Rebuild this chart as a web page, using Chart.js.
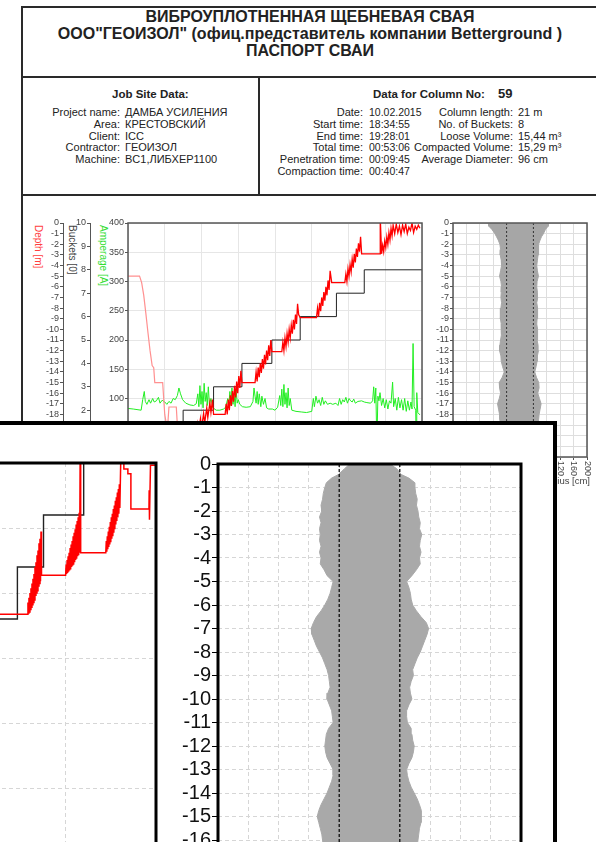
<!DOCTYPE html>
<html lang="ru">
<head>
<meta charset="utf-8">
<title>Паспорт сваи</title>
<script src="https://cdn.jsdelivr.net/npm/chart.js@4.4.1/dist/chart.umd.min.js"></script>
<style>
  html, body { margin: 0; padding: 0; background: #fff; }
  body { position: relative; width: 596px; height: 842px; overflow: hidden;
         font-family: "Liberation Sans", Arial, sans-serif; color: #222; }
  .hl { position: absolute; height: 2px; background: #2a2a2a; }
  .vl { position: absolute; width: 2px; background: #2a2a2a; }
  .txt { position: absolute; white-space: nowrap; font-size: 11px; line-height: 11.8px; }
  .r { text-align: right; }
  .b { font-weight: bold; }
  .vt { position: absolute; writing-mode: vertical-rl; font-size: 10px; line-height: 11px; white-space: nowrap; }
  canvas { position: absolute; }
  #inset { position: absolute; left: -10px; top: 421px; width: 559px; height: 500px;
           border: 4px solid #000; background: #fff; overflow: hidden; }
</style>
</head>
<body>
<div class="hl" style="left:22px; top:6px; width:576px"></div>
<div class="vl" style="left:21px; top:6px; height:836px"></div>
<div class="txt b" style="left:22px; width:576px; top:8px; text-align:center; font-size:16px; line-height:17px">ВИБРОУПЛОТНЕННАЯ ЩЕБНЕВАЯ СВАЯ<br>ООО"ГЕОИЗОЛ" (офиц.представитель компании Betterground )<br>ПАСПОРТ СВАИ</div>
<div class="hl" style="left:22px; top:76px; width:576px"></div>
<div class="vl" style="left:258px; top:76px; height:120px"></div>
<div class="hl" style="left:22px; top:194px; width:576px"></div>

<div class="txt b" style="left:112px; top:89px; font-size:11.5px">Job Site Data:</div>
<div class="txt r" style="left:0; width:120px; top:107px">Project name:<br>Area:<br>Client:<br>Contractor:<br>Machine:</div>
<div class="txt" style="left:125px; top:107px">ДАМБА УСИЛЕНИЯ<br>КРЕСТОВСКИЙ<br>ICC<br>ГЕОИЗОЛ<br>BC1,ЛИБХЕР1100</div>

<div class="txt b" style="left:373px; top:89px; font-size:11.5px">Data for Column No:</div>
<div class="txt b" style="left:498px; top:88px; font-size:13px">59</div>
<div class="txt r" style="left:243px; width:120px; top:107px">Date:<br>Start time:<br>End time:<br>Total time:<br>Penetration time:<br>Compaction time:</div>
<div class="txt" style="left:369px; top:107px; font-size:10.5px">10.02.2015<br>18:34:55<br>19:28:01<br>00:53:06<br>00:09:45<br>00:40:47</div>
<div class="txt r" style="left:393px; width:120px; top:107px">Column length:<br>No. of Buckets:<br>Loose Volume:<br>Compacted Volume:<br>Average Diameter:</div>
<div class="txt" style="left:518px; top:107px">21 m<br>8<br>15,44 m³<br>15,29 m³<br>96 cm</div>

<div class="vt" style="left:33px; top:225px; color:#ff4040">Depth [m]</div>
<div class="vt" style="left:67px; top:225px; color:#444">Buckets [0]</div>
<div class="vt" style="left:98px; top:225px; color:#33dd33">Amperage [A]</div>

<canvas id="cMain" width="410" height="270" style="left:22px; top:196px"></canvas>
<canvas id="cRad" width="176" height="300" style="left:420px; top:196px"></canvas>

<div id="inset">
  <canvas id="cZoom" width="245" height="560" style="left:-74px; top:25px"></canvas>
  <canvas id="cZoomRad" width="380" height="560" style="left:156px; top:20px"></canvas>
</div>

<script>
// --- main chart: time [min] ---
const ampT = [0, 1.0, 2.5, 2.8, 3.1, 3.3, 3.6, 4.0, 4.3, 4.7,
  5.0, 5.4, 5.8, 6.1, 6.5, 7.0, 7.4, 7.8, 8.2, 8.6,
  9.0, 9.4, 9.7, 10.0, 10.4, 11.0, 11.8, 12.5, 13.0, 13.3,
  13.5, 13.7, 13.9, 14.1, 14.3, 14.5, 14.7, 14.9, 15.1, 15.3,
  15.5, 15.8, 16.2, 16.8, 17.5, 18.2, 18.6, 19.0, 19.2, 19.4,
  19.6, 19.8, 20.0, 20.2, 20.4, 20.6, 20.8, 21.0, 21.3, 21.8,
  22.5, 23.3, 23.8, 24.0, 24.2, 24.4, 24.6, 24.8, 25.0, 25.3,
  25.5, 25.8, 26.1, 26.4, 26.8, 27.5, 28.0, 28.5, 28.9, 29.1,
  29.3, 29.5, 29.7, 29.9, 30.1, 30.3, 30.5, 30.7, 30.9, 31.2,
  32.0, 33.0, 34.0, 35.0, 35.3, 35.5, 35.8, 36.1, 36.4, 36.7,
  37.0, 37.3, 37.6, 38.0, 38.5, 39.0, 39.6, 40.0, 40.3, 40.6,
  40.9, 41.2, 41.5, 41.8, 42.1, 42.4, 42.7, 43.0, 43.3, 43.8,
  44.5, 45.0, 45.5, 46.2, 46.6, 46.8, 47.0, 47.2, 47.4, 47.6,
  47.8, 48.0, 48.3, 48.6, 48.9, 49.2, 49.5, 49.8, 50.1, 50.4,
  50.6, 50.9, 51.2, 51.5, 51.8, 52.1, 52.4, 52.7, 53.0, 53.3,
  53.6, 53.9, 54.1, 54.3, 54.5, 54.8, 54.9, 55.0, 55.2, 55.6];
const ampA = [83, 82, 80, 98, 112, 95, 90, 98, 92, 100,
  94, 96, 102, 92, 97, 94, 90, 95, 92, 100,
  98, 105, 118, 108, 98, 92, 89, 88, 91, 108,
  86, 122, 90, 112, 84, 126, 95, 110, 88, 120,
  90, 100, 84, 80, 80, 82, 85, 100, 86, 112,
  88, 118, 90, 108, 86, 115, 92, 98, 90, 86,
  85, 86, 95, 118, 104, 92, 112, 90, 108, 86,
  104, 90, 100, 84, 82, 82, 80, 85, 105, 88,
  116, 86, 124, 90, 110, 84, 118, 88, 100, 80,
  78, 77, 76, 78, 100, 86, 104, 92, 98, 88,
  102, 90, 96, 90, 92, 90, 92, 88, 100, 90,
  98, 94, 102, 92, 100, 96, 94, 99, 92, 95,
  96, 94, 93, 92, 96, 120, 92, 118, 20, 104,
  96, 110, 88, 100, 84, 98, 82, 96, 92, 128,
  86, 100, 80, 102, 84, 98, 80, 100, 78, 96,
  80, 94, 82, 194, 86, 80, 20, 110, 76, 72];

const bktT = [0, 8.5, 10.5, 16.3, 21.7, 27.4, 32.8, 39.7, 45.0, 56];
const bktN = [0, 1, 2, 3, 4, 5, 6, 7, 8, 8];

const penT = [0, 2.2, 2.6, 3.0, 3.4, 3.8, 4.2, 4.6, 4.9, 5.1, 5.6, 6.6, 6.8, 7.0, 7.5, 7.8, 9.2, 9.4, 9.8, 10.5];
const penD = [-5.0, -5.0, -5.6, -6.8, -8.5, -10.3, -12.0, -13.4, -13.6, -15.0, -15.0, -15.0, -16.5, -18.0, -19.5, -17.3, -17.3, -19.0, -21.0, -21.0];

const compT = [10.5, 11.0, 11.4, 11.6, 12.0, 12.2, 12.6, 12.8, 13.2, 13.4, 13.8, 14.0, 14.4, 14.6, 15.0, 15.2, 15.6, 15.8, 16.1, 16.3,
  18.5, 18.7, 18.9, 19.1, 19.3, 19.5, 19.7, 19.9, 20.1, 20.3, 20.5, 20.7, 20.9, 21.1, 21.3, 21.5, 21.7,
  24.2, 24.4, 24.6, 24.8, 25.0, 25.2, 25.4, 25.6, 25.8, 26.0, 26.2, 26.4, 26.6, 26.8, 27.0, 27.2, 27.4,
  29.3, 29.5, 29.7, 29.9, 30.1, 30.3, 30.5, 30.7, 30.9, 31.1, 31.3, 31.5, 31.7, 31.9, 32.1, 32.3, 32.5, 32.8,
  35.9, 36.1, 36.3, 36.5, 36.7, 36.9, 37.1, 37.3, 37.5, 37.7, 37.9, 38.1, 38.3, 38.5, 38.8,
  41.3, 41.5, 41.7, 41.9, 42.1, 42.3, 42.5, 42.7, 42.9, 43.1, 43.3, 43.5, 43.7, 43.9, 44.1, 44.3, 44.5,
  48.0, 48.05, 48.3, 48.5, 48.7, 48.9, 49.1, 49.3, 49.5, 49.7, 49.9, 50.1, 50.3, 50.5,
  50.8, 51.1, 51.4, 51.7, 52.0, 52.3, 52.6, 52.9, 53.2, 53.5, 53.8, 54.1, 54.4, 54.7, 55.0, 55.3, 55.6];
const compD = [-21.0, -21.0, -20.2, -21.0, -19.8, -20.6, -19.3, -20.2, -18.9, -19.8, -18.4, -19.3, -17.9, -18.8, -17.4, -18.3, -16.9, -17.8, -16.6, -18.0,
  -18.0, -17.0, -18.0, -16.6, -17.6, -16.2, -17.2, -15.8, -16.8, -15.3, -16.4, -14.9, -16.0, -14.4, -15.5, -13.9, -15.0,
  -15.0, -14.0, -14.9, -13.6, -14.5, -13.2, -14.1, -12.8, -13.7, -12.4, -13.3, -12.0, -12.9, -11.5, -12.5, -11.0, -12.1,
  -12.1, -11.2, -12.0, -10.8, -11.6, -10.4, -11.2, -10.0, -10.8, -9.6, -10.4, -9.1, -10.0, -8.6, -9.5, -7.6, -8.6, -8.9,
  -8.9, -8.0, -8.8, -7.5, -8.3, -7.0, -7.8, -6.5, -7.3, -6.0, -6.8, -5.4, -6.3, -4.5, -5.6,
  -5.6, -4.8, -5.5, -4.3, -5.0, -3.9, -4.6, -3.4, -4.2, -2.9, -3.7, -2.4, -3.2, -1.9, -2.7, -1.3, -2.9,
  -2.9, 0.5, -2.9, -2.1, -2.7, -1.7, -2.3, -1.3, -2.0, -0.9, -1.6, -0.5, -1.2, -0.2,
  -1.0, -0.1, -0.9, -0.3, -1.1, -0.2, -0.8, -0.1, -1.0, -0.4, -0.7, 0.0, -0.9, -0.3, -0.6, -0.2, -0.5];

// --- radius profile, top chart: depth [m], left/right edge [cm] ---
const topDepth = [0, -0.3, -0.6, -1, -1.3, -1.6, -2, -2.5, -3, -3.5, -4, -4.5, -5, -5.5, -6, -6.5, -7, -7.5, -8, -8.5, -9, -9.5,
  -10, -10.5, -11, -11.5, -12, -12.5, -13, -13.5, -14, -14.5, -15, -15.5, -16, -16.5, -17, -17.5, -18, -18.5, -19, -19.5, -20, -20.5, -21];
const topLeft = [-95, -93, -84, -75, -70, -65, -60, -58, -59, -56, -55, -58, -61, -57, -55, -56, -57, -55, -57, -58, -59, -56,
  -55, -56, -58, -60, -61, -57, -56, -52, -47, -53, -62, -61, -58, -62, -67, -64, -61, -60, -59, -58, -57, -56, -54];
const topRight = [85, 84, 76, 70, 64, 60, 56, 55, 54, 52, 50, 52, 55, 51, 50, 52, 53, 50, 52, 53, 51, 50,
  52, 53, 51, 54, 55, 52, 51, 48, 44, 49, 56, 57, 53, 58, 63, 60, 57, 56, 55, 54, 53, 52, 50];

// --- zoomed view ---
const zBktT = [28, 37.2, 39.8, 43.8, 51];
const zBktN = [7, 8, 9, 11, 11];
const zDepT = [28,
  38.20, 38.25, 38.30, 38.35, 38.40, 38.45, 38.50, 38.55, 38.60, 38.65, 38.70, 38.75, 38.80, 38.85, 38.90,
  38.95, 39.00, 39.05, 39.10, 39.15, 39.20, 39.25, 39.30, 39.35, 39.40, 39.45, 39.50, 39.55, 39.60,
  42.00, 42.05, 42.10, 42.15, 42.20, 42.25, 42.30, 42.35, 42.40, 42.45, 42.50, 42.55, 42.60, 42.65, 42.70,
  42.75, 42.80, 42.85, 42.90, 42.95, 43.00, 43.05, 43.10, 43.15, 43.20, 43.25, 43.30, 43.35, 43.40, 43.45, 43.50,
  46.00, 46.05, 46.10, 46.15, 46.20, 46.25, 46.30, 46.35, 46.40, 46.45, 46.50, 46.55, 46.60, 46.65, 46.70,
  46.75, 46.80, 46.85, 46.90, 46.95, 47.00, 47.05, 47.10, 47.15, 47.20, 47.25, 47.30, 47.35, 47.40,
  47.5, 47.8, 47.8, 48.2, 48.2, 48.5, 48.5,
  50.3, 50.32, 50.35, 50.45, 51];
const zDepD = [-6.4,
  -6.4, -5.9, -6.35, -5.7, -6.3, -5.5, -6.2, -5.3, -6.1, -5.1, -6.0, -4.9, -5.9, -4.7, -5.8,
  -4.4, -5.6, -4.2, -5.5, -3.9, -5.4, -3.7, -5.2, -3.4, -5.1, -3.2, -5.0, -2.9, -4.75,
  -4.75, -4.3, -4.7, -4.1, -4.65, -3.95, -4.6, -3.8, -4.55, -3.6, -4.5, -3.45, -4.4, -3.3, -4.35,
  -3.1, -4.3, -2.95, -4.2, -2.8, -4.1, -2.6, -4.05, -2.45, -3.95, -2.3, -3.9, -2.1, -3.8, 0.5, -3.8,
  -3.8, -3.3, -3.75, -3.1, -3.65, -2.9, -3.55, -2.7, -3.45, -2.5, -3.35, -2.3, -3.2, -2.15, -3.1,
  -1.95, -2.95, -1.8, -2.8, -1.6, -2.6, -1.45, -2.45, -1.25, -2.3, -1.1, -2.15, -0.9, -1.9,
  0.3, 0.3, -0.25, -0.25, -0.45, -0.45, -1.95,
  -1.95, -1.15, -2.4, -0.1, -0.1];

const zDepth = [0, -0.2, -0.45, -0.6, -0.8, -1, -1.25, -1.5, -1.75, -2, -2.25, -2.5, -2.75, -3, -3.25, -3.5, -3.75, -4,
  -4.25, -4.5, -4.75, -5, -5.25, -5.5, -5.75, -6, -6.25, -6.5, -6.75, -7, -7.25, -7.5, -7.75, -8, -8.25, -8.5, -8.75, -9,
  -9.25, -9.5, -9.75, -10, -10.25, -10.5, -10.75, -11, -11.25, -11.5, -11.75, -12, -12.25, -12.5, -12.75, -13, -13.25,
  -13.5, -13.75, -14, -14.25, -14.5, -14.75, -15, -15.25, -15.5, -15.75, -16, -16.5, -17, -17.5, -18, -18.5, -19, -19.5,
  -20, -20.5, -21];
const zLeft = [-26, -33, -41, -50, -57, -59, -61, -62, -64, -63, -66, -64, -66, -65, -66, -64, -66, -64,
  -65, -60, -56, -48, -50, -52, -55, -59, -64, -70, -74, -77, -76, -73, -70, -66, -62, -59, -56, -54,
  -53, -52, -55, -56, -53, -50, -49, -48, -54, -57, -58, -59, -58, -56, -52, -48, -48,
  -50, -53, -56, -60, -64, -67, -69, -67, -65, -63, -62, -60, -58, -60, -62, -58, -56, -59,
  -57, -55, -50];
const zRight = [27, 36, 42, 52, 60, 60, 61, 63, 62, 64, 65, 67, 66, 69, 67, 66, 68, 66,
  67, 62, 56, 49, 52, 54, 55, 57, 62, 68, 75, 78, 76, 73, 70, 67, 63, 60, 57, 58,
  55, 53, 54, 56, 52, 49, 49, 50, 55, 56, 57, 59, 58, 56, 52, 49, 50,
  52, 55, 59, 63, 66, 68, 69, 68, 66, 65, 64, 62, 60, 61, 60, 57, 58, 60,
  56, 55, 50];

const avgRadius = 40;

const pts = (xs, ys) => xs.map((x, i) => ({ x: x, y: ys[i] }));

function outline(depth, left, right) {
  const out = [{ x: -200, y: depth[0] }];
  depth.forEach((d, i) => out.push({ x: left[i], y: d }));
  for (let i = depth.length - 1; i >= 0; i--) out.push({ x: right[i], y: depth[i] });
  out.push({ x: 200, y: depth[0] });
  return out;
}

Chart.defaults.font.family = '"Liberation Sans", Arial, sans-serif';
Chart.defaults.animation = false;
Chart.defaults.events = [];
Chart.defaults.plugins.legend.display = false;
Chart.defaults.plugins.tooltip.enabled = false;
Chart.defaults.elements.point.radius = 0;

const frame = {
  id: 'frame',
  defaults: { color: '#555', width: 1.5 },
  afterDraw(chart, args, opts) {
    const a = chart.chartArea, c = chart.ctx;
    c.save();
    c.strokeStyle = opts.color;
    c.lineWidth = opts.width;
    c.strokeRect(a.left, a.top, a.right - a.left, a.bottom - a.top);
    c.restore();
  }
};
Chart.register(frame);

// vertical tick labels and title of the radius axis
const radTicks = {
  id: 'radTicks',
  afterDraw(chart) {
    const s = chart.scales.x, c = chart.ctx, y0 = chart.chartArea.bottom + 4;
    c.save();
    c.fillStyle = '#444';
    c.font = '9px "Liberation Sans", Arial';
    c.textAlign = 'left';
    c.textBaseline = 'middle';
    s.ticks.forEach(t => {
      c.save();
      c.translate(s.getPixelForValue(t.value), y0);
      c.rotate(Math.PI / 2);
      c.fillText(String(t.value), 0, 0);
      c.restore();
    });
    c.textAlign = 'right';
    c.font = '9.5px "Liberation Sans", Arial';
    c.fillText('Radius [cm]', chart.chartArea.right + 3, chart.chartArea.bottom + 24);
    c.restore();
  }
};

const small = { size: 9 };

new Chart(document.getElementById('cMain'), {
  type: 'line',
  data: {
    datasets: [
      { data: pts(compT, compD), yAxisID: 'dep', borderColor: '#ff0000', borderWidth: 1.3 },
      { data: pts(bktT, bktN), yAxisID: 'bkt', borderColor: '#222', borderWidth: 1, stepped: true },
      { data: pts(penT, penD), yAxisID: 'dep', borderColor: '#ff9090', borderWidth: 1.2 },
      { data: pts(ampT, ampA), yAxisID: 'amp', borderColor: '#22ee22', borderWidth: 1 }
    ]
  },
  options: {
    responsive: false,
    layout: { padding: { top: 27, right: 10, bottom: 9, left: 0 } },
    scales: {
      x: {
        type: 'linear', min: 0, max: 56,
        ticks: { display: false, stepSize: 7 },
        grid: { color: '#e6e6e6', drawTicks: false },
        border: { display: false },
        afterFit: s => { s.height = 0; }
      },
      amp: {
        axis: 'y', position: 'left', weight: 0, min: 0, max: 400,
        ticks: { stepSize: 50, font: small, color: '#444', padding: 1 },
        grid: { color: '#e6e6e6', tickColor: '#555', tickLength: 3 },
        border: { display: false },
        afterFit: s => { s.width = 38; }
      },
      bkt: {
        axis: 'y', position: 'left', weight: 1, min: 0, max: 10,
        ticks: { stepSize: 1, font: small, color: '#444', padding: 1 },
        grid: { drawOnChartArea: false, tickColor: '#555', tickLength: 3 },
        border: { color: '#555' },
        afterFit: s => { s.width = 27; }
      },
      dep: {
        axis: 'y', position: 'left', weight: 2, min: -22, max: 0,
        ticks: { stepSize: 1, autoSkip: false, font: small, color: '#444', padding: 1 },
        grid: { drawOnChartArea: false, tickColor: '#555', tickLength: 3 },
        border: { color: '#555' },
        afterFit: s => { s.width = 41; }
      }
    }
  }
});

new Chart(document.getElementById('cRad'), {
  type: 'line',
  data: {
    datasets: [
      { data: [{ x: -avgRadius, y: 0 }, { x: -avgRadius, y: -22 }], borderColor: '#333', borderWidth: 1, borderDash: [2, 2] },
      { data: [{ x: avgRadius, y: 0 }, { x: avgRadius, y: -22 }], borderColor: '#333', borderWidth: 1, borderDash: [2, 2] },
      { data: outline(topDepth, topLeft, topRight), borderColor: '#a6a6a6', borderWidth: 1, backgroundColor: '#a6a6a6', fill: 'shape' }
    ]
  },
  options: {
    responsive: false,
    layout: { padding: { top: 27, right: 9, bottom: 39, left: 0 } },
    scales: {
      x: {
        type: 'linear', min: -200, max: 200,
        ticks: { display: false, stepSize: 40 },
        grid: { color: '#dedede', tickColor: '#555', tickLength: 3 },
        border: { display: false },
        afterFit: s => { s.height = 0; }
      },
      y: {
        type: 'linear', min: -22, max: 0,
        ticks: { stepSize: 1, autoSkip: false, font: small, color: '#444', padding: 1 },
        grid: { color: '#dedede', tickColor: '#555', tickLength: 3 },
        border: { display: false },
        afterFit: s => { s.width = 33; }
      }
    }
  },
  plugins: [radTicks]
});

new Chart(document.getElementById('cZoom'), {
  type: 'line',
  data: {
    datasets: [
      { data: pts(zDepT, zDepD), yAxisID: 'dep', borderColor: '#ff0000', borderWidth: 1.5 },
      { data: pts(zBktT, zBktN), yAxisID: 'bkt', borderColor: '#222', borderWidth: 1.4, stepped: true }
    ]
  },
  options: {
    responsive: false,
    layout: { padding: { top: 13, right: 9, bottom: 27, left: 5 } },
    plugins: { frame: { color: '#000', width: 3 } },
    scales: {
      x: {
        type: 'linear', min: 28, max: 51,
        ticks: { display: false, stepSize: 7 },
        grid: { color: '#d6d6d6', drawTicks: false },
        border: { display: false, dash: [4, 3] },
        afterFit: s => { s.height = 0; }
      },
      amp: {
        axis: 'y', position: 'left', min: 0, max: 400,
        ticks: { display: false, stepSize: 50 },
        grid: { color: '#d6d6d6', drawTicks: false },
        border: { display: false, dash: [4, 3] },
        afterFit: s => { s.width = 0; }
      },
      bkt: { axis: 'y', position: 'left', display: false, min: 0, max: 10 },
      dep: { axis: 'y', position: 'left', display: false, min: -22, max: 0 }
    }
  }
});

new Chart(document.getElementById('cZoomRad'), {
  type: 'line',
  data: {
    datasets: [
      { data: [{ x: -avgRadius, y: 0 }, { x: -avgRadius, y: -22 }], borderColor: '#000', borderWidth: 1.2, borderDash: [3, 2] },
      { data: [{ x: avgRadius, y: 0 }, { x: avgRadius, y: -22 }], borderColor: '#000', borderWidth: 1.2, borderDash: [3, 2] },
      { data: outline(zDepth, zLeft, zRight), borderColor: '#a9a9a9', borderWidth: 1, backgroundColor: '#a9a9a9', fill: 'shape' }
    ]
  },
  options: {
    responsive: false,
    layout: { padding: { top: 19, right: 9, bottom: 24, left: 0 } },
    plugins: { frame: { color: '#000', width: 3 } },
    scales: {
      x: {
        type: 'linear', min: -200, max: 200,
        ticks: { display: false, stepSize: 40 },
        grid: { color: '#d6d6d6', drawTicks: false },
        border: { display: false, dash: [4, 3] },
        afterFit: s => { s.height = 0; }
      },
      y: {
        type: 'linear', min: -22, max: 0,
        ticks: { stepSize: 1, autoSkip: false, font: { size: 20 }, color: '#111', padding: 1 },
        grid: { color: '#d6d6d6', tickColor: '#000', tickLength: 6 },
        border: { display: false, dash: [4, 3] },
        afterFit: s => { s.width = 68; }
      }
    }
  }
});
</script>
</body>
</html>
